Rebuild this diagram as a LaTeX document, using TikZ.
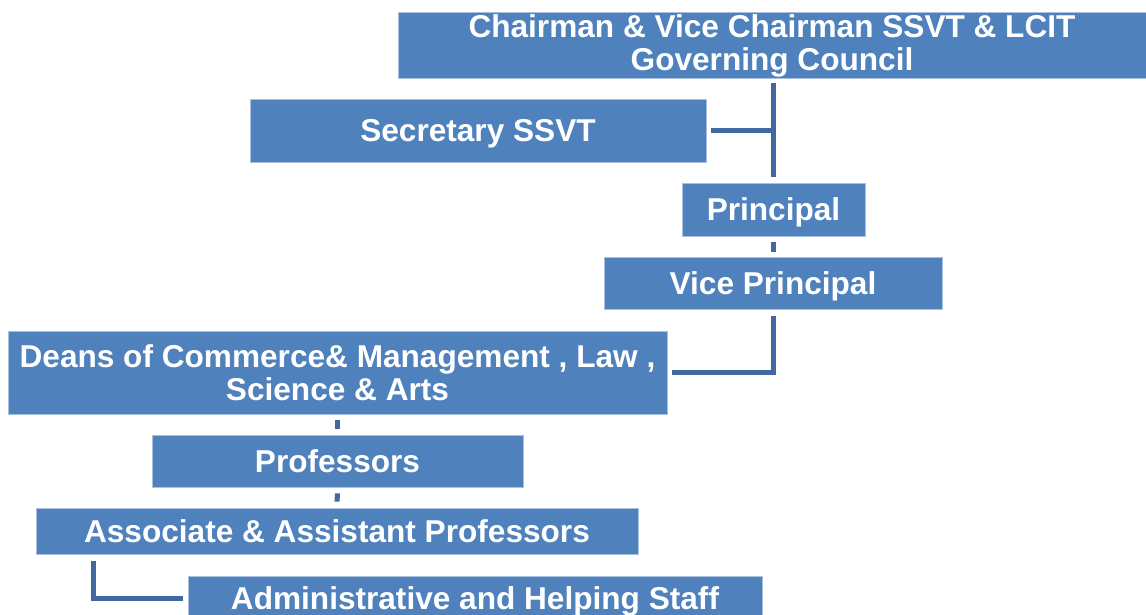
\documentclass[tikz,border=0pt]{standalone}
\usepackage{fontspec}
\setmainfont{Liberation Sans}
\definecolor{boxblue}{HTML}{4F81BD}
\definecolor{boxedge}{HTML}{A9C0DE}
\definecolor{linkblue}{HTML}{41699E}
\tikzset{
  orgbox/.style={rectangle, fill=boxblue, draw=boxedge, line width=0.4pt, inner sep=0pt,
    text=white, font=\bfseries\fontsize{15.8}{16.5}\selectfont, align=center},
  oneline/.style={orgbox, text height=11.3pt, text depth=0pt},
  link/.style={draw=linkblue, line width=2.5pt}
}

\begin{document}
\begin{tikzpicture}[x=0.5pt, y=-0.5pt]
    \useasboundingbox (0, 0) rectangle (1146, 615);
    \node[orgbox, minimum width=374pt, minimum height=33pt] (chair) at (772, 45) {\rule{0pt}{12.5pt}Chairman \& Vice Chairman SSVT \& LCIT\\Governing Council};
    \node[oneline, minimum width=228pt, minimum height=31.5pt] (sec) at (478, 130.5) {Secretary SSVT};
    \node[oneline, minimum width=91.5pt, minimum height=26.5pt] (prin) at (773.5, 209.5) {Principal};
    \node[oneline, minimum width=169pt, minimum height=26pt] (vp) at (773, 283) {Vice Principal};
    \node[orgbox, minimum width=329.5pt, minimum height=41.5pt] (deans) at (337.5, 372.5) {Deans of Commerce\& Management , Law ,\\Science \& Arts};
    \node[oneline, minimum width=185.5pt, minimum height=26pt] (prof) at (337.5, 461) {Professors};
    \node[oneline, minimum width=301pt, minimum height=23pt] (assoc) at (337, 531) {Associate \& Assistant Professors};
    \node[oneline, minimum width=287pt, minimum height=22pt] (admin) at (475, 598) {Administrative and Helping Staff};
    \coordinate (spine) at (773, 130.5);
    \coordinate (elbow) at (93, 554);
    \draw[link, shorten <=2.5pt, shorten >=3pt] (chair.south -| spine) -- (prin.north -| spine);
    \draw[link, shorten <=2.5pt] (sec.east) -- (spine);
    \draw[link, shorten <=3pt, shorten >=2.5pt] (prin.south -| spine) -- (vp.north -| spine);
    \draw[link, shorten <=3.5pt, shorten >=2.5pt] (vp.south -| spine) |- (deans.east);
    \draw[link, shorten <=3pt, shorten >=3pt] (deans.south) -- (prof.north);
    \draw[link, shorten <=3pt, shorten >=3pt] (prof.south) -- (assoc.north);
    \draw[link, shorten <=3.5pt, shorten >=2.5pt] (elbow) |- (admin.west);
\end{tikzpicture}
\end{document}
